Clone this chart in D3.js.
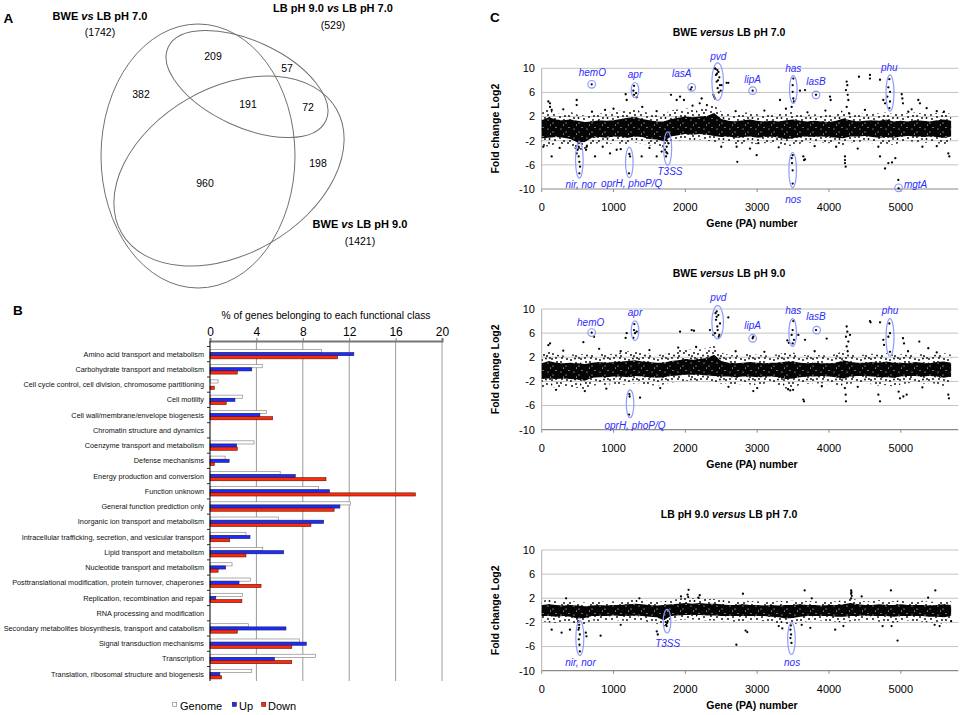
<!DOCTYPE html>
<html>
<head>
<meta charset="utf-8">
<script src="https://cdn.jsdelivr.net/npm/d3@7"></script>
<style>
  body { margin: 0; background: #fff; }
  text { font-family: "Liberation Sans", Arial, Helvetica, sans-serif; }
</style>
</head>
<body>
<svg id="fig" width="965" height="715"></svg>
<script>
// ---------- data: panel A (Venn) ----------
const vennNames = ["BWE vs LB pH 7.0", "LB pH 9.0 vs LB pH 7.0", "BWE vs LB pH 9.0"];
const vennTotals = [1742, 529, 1421];
const vennCounts = [382, 209, 57, 191, 72, 198, 960];

// ---------- data: panel B (functional classes) ----------
const categories = [
  "Amino acid transport and metabolism",
  "Carbohydrate transport and metabolism",
  "Cell cycle control, cell division, chromosome partitioning",
  "Cell motility",
  "Cell wall/membrane/envelope biogenesis",
  "Chromatin structure and dynamics",
  "Coenzyme transport and metabolism",
  "Defense mechanisms",
  "Energy production and conversion",
  "Function unknown",
  "General function prediction only",
  "Inorganic ion transport and metabolism",
  "Intracellular trafficking, secretion, and vesicular transport",
  "Lipid transport and metabolism",
  "Nucleotide transport and metabolism",
  "Posttranslational modification, protein turnover, chaperones",
  "Replication, recombination and repair",
  "RNA processing and modification",
  "Secondary metabolites biosynthesis, transport and catabolism",
  "Signal transduction mechanisms",
  "Transcription",
  "Translation, ribosomal structure and biogenesis"
];
const seriesNames = ["Genome", "Up", "Down"];
const genome = [9.6, 4.5, 0.7, 2.8, 4.85, 0, 3.8, 1.3, 6.05, 9.35, 12.1, 5.9, 3.1, 4.55, 1.9, 3.5, 2.8, 0, 3.3, 7.7, 9.1, 3.6];
const up     = [12.4, 3.6, 0, 2.15, 4.3, 0, 2.3, 1.65, 7.35, 10.3, 11.2, 9.8, 3.45, 6.35, 1.35, 2.5, 0.5, 0, 6.55, 8.3, 5.55, 0.85];
const down   = [11.0, 2.35, 0.37, 1.4, 5.4, 0, 2.35, 0.37, 10.0, 17.7, 10.7, 8.7, 1.7, 3.1, 0.7, 4.4, 2.75, 0, 2.35, 7.05, 7.05, 1.0];
const pctTicks = [0, 4, 8, 12, 16, 20];

// ---------- data: panel C (fold change per gene) ----------
const geneTicks = [0, 1000, 2000, 3000, 4000, 5000];
const foldTicks = [10, 6, 2, -2, -6, -10];
// dense cloud read as an envelope every 100 genes
const bandGenes = [0,100,200,300,400,500,600,700,800,900,1000,1100,1200,1300,1400,1500,1600,1700,1800,1900,
  2000,2100,2200,2300,2400,2500,2600,2700,2800,2900,3000,3100,3200,3300,3400,3500,3600,3700,3800,3900,
  4000,4100,4200,4300,4400,4500,4600,4700,4800,4900,5000,5100,5200,5300,5400,5500,5600,5700];

const p1CoreHi = [1.4,1.9,1.5,1.4,1.5,1.3,1.1,1.2,1.4,1.3, 1.4,1.6,1.8,1.9,1.6,1.4,1.2,1.2,1.6,1.8,
  2.0,1.9,2.0,2.1,2.6,1.6,1.3,1.2,1.4,1.5, 1.3,1.2,1.3,1.2,1.4,1.5,1.3,1.2,1.3,1.2,
  1.1,1.3,1.7,1.4,1.2,1.3,1.4,1.3,1.5,1.2, 1.3,1.2,1.4,1.3,1.2,1.4,1.5,1.3];
const p1CoreLo = [-1.6,-1.5,-1.4,-1.5,-1.7,-2.3,-2.2,-1.5,-1.4,-1.5, -1.3,-1.4,-1.5,-1.3,-1.4,-1.7,-1.8,-2.1,-1.3,-1.1,
  -0.9,-1.0,-0.9,-1.0,-1.2,-1.4,-1.3,-1.5,-1.4,-1.3, -1.5,-1.4,-1.3,-1.5,-1.7,-1.6,-1.4,-1.3,-1.4,-1.3,
  -1.4,-1.5,-1.6,-1.3,-1.3,-1.2,-1.4,-1.5,-1.4,-1.5, -1.3,-1.2,-1.3,-1.4,-1.3,-1.4,-1.5,-1.3];
const p1FringeHi = [2.6,3.4,2.5,2.4,2.8,2.3,2.2,2.4,2.5,2.6, 2.8,3.0,3.2,3.4,2.9,2.6,2.4,2.5,3.0,3.2,
  3.4,3.2,3.3,3.6,4.0,2.8,2.5,2.3,2.6,2.8, 2.4,2.3,2.5,2.4,2.7,2.8,2.5,2.3,2.4,2.3,
  2.2,2.5,3.2,2.6,2.4,2.5,2.6,2.5,2.7,2.4, 2.6,2.5,2.7,2.5,2.4,2.6,2.8,2.4];
const p1FringeLo = [-2.8,-3.0,-2.5,-2.6,-2.8,-3.6,-3.4,-2.6,-2.4,-2.6, -2.4,-2.5,-2.6,-2.3,-2.5,-2.8,-3.0,-3.2,-2.3,-2.0,
  -1.8,-1.9,-1.8,-2.0,-2.2,-2.4,-2.3,-2.6,-2.5,-2.4, -2.6,-2.4,-2.3,-2.6,-2.9,-2.8,-2.5,-2.3,-2.4,-2.3,
  -2.4,-2.6,-2.8,-2.3,-2.2,-2.1,-2.4,-2.6,-2.5,-2.7, -2.3,-2.1,-2.2,-2.4,-2.3,-2.4,-2.6,-2.3];

const p2CoreHi = [1.0,1.4,1.1,1.0,1.1,1.0,0.9,1.1,1.2,1.1, 1.2,1.3,1.4,1.5,1.3,1.2,1.1,1.1,1.4,1.5,
  1.7,1.6,1.7,1.9,2.4,1.4,1.1,1.0,1.1,1.2, 1.1,1.0,1.1,1.1,1.3,1.3,1.1,1.0,1.1,1.0,
  1.0,1.1,1.5,1.2,1.1,1.1,1.2,1.1,1.3,1.1, 1.1,1.0,1.2,1.1,1.0,1.2,1.3,1.1];
const p2CoreLo = [-1.6,-1.5,-1.6,-1.5,-1.6,-1.7,-1.9,-1.4,-1.3,-1.3, -1.2,-1.2,-1.3,-1.1,-1.2,-1.3,-1.4,-1.3,-1.1,-1.0,
  -0.9,-0.9,-0.9,-1.0,-1.1,-1.2,-1.2,-1.3,-1.2,-1.2, -1.3,-1.2,-1.2,-1.3,-1.6,-1.5,-1.3,-1.2,-1.2,-1.1,
  -1.2,-1.3,-1.5,-1.2,-1.1,-1.1,-1.2,-1.3,-1.3,-1.4, -1.2,-1.1,-1.1,-1.2,-1.1,-1.2,-1.4,-1.2];
const p2FringeHi = [2.4,3.0,2.5,2.3,2.5,2.4,2.6,2.5,2.6,2.5, 2.6,2.8,3.0,3.1,2.8,2.6,2.4,2.5,2.9,3.2,
  3.4,3.2,3.3,3.5,3.9,2.8,2.4,2.3,2.5,2.6, 2.4,2.3,2.4,2.5,2.9,2.8,2.5,2.3,2.4,2.3,
  2.4,2.5,3.2,2.6,2.4,2.4,2.6,2.5,2.7,2.4, 2.5,2.4,2.6,2.5,2.3,2.5,2.7,2.4];
const p2FringeLo = [-3.0,-2.9,-3.0,-2.9,-3.0,-3.1,-3.3,-2.7,-2.6,-2.6, -2.4,-2.5,-2.6,-2.3,-2.4,-2.6,-2.7,-2.5,-2.2,-2.0,
  -1.9,-2.0,-1.9,-2.0,-2.2,-2.4,-2.4,-2.6,-2.4,-2.5, -2.6,-2.4,-2.4,-2.7,-3.2,-3.0,-2.6,-2.4,-2.4,-2.3,
  -2.5,-2.6,-3.0,-2.4,-2.3,-2.2,-2.5,-2.7,-2.6,-2.9, -2.5,-2.3,-2.2,-2.4,-2.3,-2.4,-2.8,-2.4];

const p3CoreHi = [0.9,1.0,0.9,0.8,0.9,0.8,0.7,0.8,0.9,0.8, 0.9,0.9,1.0,1.1,1.0,0.9,0.8,0.9,1.0,1.1,
  1.2,1.1,1.2,1.1,1.1,1.0,0.9,0.9,1.0,0.9, 0.9,0.8,0.9,0.8,0.9,0.9,1.0,0.9,0.9,0.8,
  0.9,0.9,1.0,1.2,1.0,0.9,0.9,1.0,0.9,0.9, 1.0,0.9,0.9,0.9,0.8,0.9,1.0,0.9];
const p3CoreLo = [-0.95,-0.95,-1.05,-0.95,-1.05,-1.35,-1.25,-0.95,-0.95,-0.95, -0.85,-0.95,-0.95,-0.85,-0.95,-1.05,-1.15,-1.65,-0.95,-0.85,
  -0.75,-0.75,-0.75,-0.85,-0.85,-0.95,-0.95,-0.95,-0.95,-0.95, -0.95,-0.95,-1.05,-1.15,-1.35,-1.25,-1.05,-0.95,-0.95,-0.95,
  -0.95,-1.05,-1.05,-0.95,-0.95,-0.85,-0.95,-0.95,-0.95,-1.05, -0.95,-0.95,-0.95,-0.95,-1.05,-1.05,-1.15,-0.95];
const p3FringeHi = [1.6,1.8,1.5,1.4,1.6,1.4,1.3,1.4,1.5,1.4, 1.5,1.6,1.7,1.9,1.7,1.5,1.4,1.5,1.7,1.9,
  2.2,2.0,2.1,1.9,1.9,1.7,1.6,1.5,1.7,1.5, 1.5,1.4,1.5,1.5,1.6,1.6,1.7,1.5,1.5,1.4,
  1.5,1.5,1.7,2.0,1.7,1.5,1.5,1.7,1.6,1.5, 1.7,1.5,1.5,1.6,1.4,1.5,1.7,1.5];
const p3FringeLo = [-1.8,-2.0,-2.1,-1.8,-1.9,-2.5,-2.3,-1.7,-1.8,-1.7, -1.6,-1.7,-1.8,-1.6,-1.7,-2.0,-2.2,-2.7,-1.8,-1.6,
  -1.5,-1.5,-1.6,-1.7,-1.7,-1.8,-1.8,-1.9,-1.8,-1.8, -1.7,-1.8,-2.0,-2.3,-2.6,-2.4,-2.0,-1.8,-1.8,-1.7,
  -1.8,-1.9,-2.1,-1.8,-1.7,-1.6,-1.8,-1.9,-1.9,-2.1, -1.8,-1.7,-1.8,-1.9,-2.0,-2.0,-2.3,-1.8];

// individual genes outside the dense cloud: [gene, log2 fold change]
const pts1 = [
  [696,7.35],
  [1285,7.1],[1276,6.3],[1285,5.6],[1313,5.9],[1322,5.2],
  [2088,6.85],[2074,6.5],
  [2413,10],[2445,9.7],[2460,9.4],[2427,8.9],[2473,8.5],[2436,7.8],[2482,7.2],[2450,6.7],[2492,6.3],[2390,5.6],
  [2413,5.0],[2505,7.2],[2575,7.6],[2420,9.9],[2440,9.1],[2455,8.0],[2465,6.0],[2400,5.3],
  [2937,6.3],
  [3503,8.3],[3494,7.2],[3494,6.1],[3503,5.0],[3512,4.5],[3480,3.6],
  [3819,5.6],
  [4840,8.2],[4826,6.85],[4849,6.1],[4812,5.3],[4849,4.5],[4840,3.4],
  [4969,-9.9],[4965,-8.5],
  [3494,-4.4],[3485,-5.7],[3494,-6.9],[3494,-9.1],[3480,-4.9],
  [515,-2.4],[501,-3.5],[515,-4.6],[524,-5.5],[534,-6.3],[524,-7.4],[515,-3.0],[487,-4.1],
  [1220,-4.2],[1216,-7.4],[1230,-4.6],
  [1740,-0.8],[1731,-1.9],[1740,-3.0],[1749,-4.1],[1731,-4.6],[1763,-2.4],[1717,-3.5],[1745,-2.0],[1735,-3.9],
  [4417,8.6],[4570,8.9],[4570,8.3],[4710,8.1],
  [4246,7.8],[4255,7.2],[4236,6.4],[4260,5.6],[4269,4.75],[4246,3.6],[4283,2.5],
  [4222,-4.6],[4222,-5.2],[4222,-5.7],[4232,-6.3],
  [3596,6.3],[3666,6.4],[2598,7.6],
  [5012,5.7],[5021,5.0],[5030,4.2],[5243,4.75],[5266,4.2],[4756,4.75],[4780,4.2],[4014,5.3],[4023,4.75],
  [3318,4.75],[5104,2.8],[5359,3.4],
  [2714,-3.0],[2723,-5.5],[2993,-4.4],[3016,-2.4],[3642,-4.6],[3652,-5.2],[3666,-5.1],
  [4710,-4.6],[4780,-6.6],[4826,-5.7],[4687,-3.0],[4923,-4.9],[4877,-5.6],[5661,-4.1],[5675,-4.6],
  [116,4.2],[93,4.5],[116,3.6],[139,3.1],[487,4.75],[487,3.9],[1169,5.7],[1183,4.75],[1800,5.6],[1879,4.75],
  [1926,5.3],[1981,4.75],[2227,5.0],[882,3.1],
  [139,-4.6],[23,-3.0],[742,-4.6],[951,-4.1],[1044,-3.5],[1601,-4.6],[1670,-3.8],[1392,-4.6],[626,-3.0],[617,-3.5],
  [300,3.2],[700,2.8],[1000,3.3],[1400,3.6],[1600,2.9],[2100,3.8],[2200,4.2],[2300,3.9],[2700,2.9],[3100,3.0],
  [3400,3.3],[3700,2.7],[3950,3.0],[4500,3.1],[5150,3.2],[5500,2.9],[5600,2.8],
  [250,-3.2],[850,-3.0],[1100,-3.4],[1500,-3.2],[2500,-3.0],[2900,-3.3],[3300,-3.1],[3800,-2.9],[4100,-3.0],
  [4400,-3.3],[5300,-3.0],[5500,-2.9]
];
const pts2 = [
  [696,6.1],[728,5.4],
  [1290,7.5],[1285,6.5],[1299,6.0],[1276,5.2],[1322,6.25],
  [2436,9.6],[2459,9.0],[2427,8.2],[2482,7.6],[2445,7.1],[2413,6.0],[2473,5.7],[2436,8.7],[2390,5.7],[2598,8.6],
  [2420,9.3],[2450,6.5],[2465,5.4],
  [2937,5.15],[2946,5.4],
  [3503,8.0],[3494,6.5],[3480,5.7],[3512,4.9],[3494,4.3],
  [3819,6.5],
  [4840,7.6],[4849,6.0],[4826,5.4],[4849,2.9],
  [1220,-4.1],[1225,-4.5],[1216,-7.5],
  [4246,7.1],[4255,6.25],[4236,5.4],[4269,4.6],[4246,3.8],[4292,5.7],[4260,3.0],
  [4222,-3.1],[4232,-4.2],[4236,-5.3],
  [4570,8.0],[4579,7.8],[4710,7.8],
  [3967,5.1],[3573,5.7],[3666,4.9],[1183,6.0],[1169,5.2],[1926,6.25],[2088,6.5],[2120,6.4],
  [5030,5.15],[5044,4.3],[5257,4.6],[5382,3.5],[4756,4.9],[4766,4.05],[2343,6.5],
  [4687,-4.2],[4710,-5.3],[4969,-3.7],[4988,-4.8],[5035,-4.5],[5081,-4.2],[3642,-5.0],[3652,-5.3],
  [2946,-3.6],[1369,-4.7],[5661,-4.2],[5670,-4.8],
  [116,4.3],[93,4.0],[580,4.5],[3420,4.8],[3440,4.4],[3430,-3.3],[3460,-3.5],[3500,-3.4],
  [300,3.1],[800,3.4],[1100,3.0],[1500,3.2],[1900,3.6],[2150,3.7],[2700,3.0],[3100,2.9],[3800,3.0],
  [5100,3.0],[5500,2.8],
  [200,-3.4],[600,-3.6],[900,-3.2],[1650,-3.1],[2600,-2.9],[3000,-3.1],[3900,-2.8],[4400,-2.9],[5300,-3.0]
];
const pts3 = [
  [522,-2.4],[512,-3.2],[531,-4.0],[517,-4.8],[526,-5.7],[531,-6.8],[508,-1.8],[614,-3.7],[623,-4.3],[520,-2.9],
  [1731,-1.0],[1754,-1.8],[1731,-2.4],[1740,-2.6],[1745,-2.1],
  [3463,-3.2],[3472,-4.0],[3463,-4.6],[3477,-5.4],[3468,-2.5],
  [2045,3.4],[2031,2.6],[2040,2.2],
  [4308,3.3],[4308,2.75],[4308,2.0],[4317,2.4],[4312,3.0],
  [3661,3.3],[4862,3.3],[5480,3.3],[2802,2.75],
  [4954,-5.0],[2710,-5.7],[1616,-4.0],[1602,-3.5],[277,-3.7],[393,-3.2],[139,-3.2],
  [5471,-2.4],[5540,-2.6],[1939,2.3],[2839,-3.35],[2862,-3.6],[4086,-3.2],[4871,-2.6],[4746,-2.6],[4455,2.3],
  [2200,2.5],[2180,2.1],[1360,2.0],[340,2.0],[3760,2.0],[5380,2.1],[3300,-2.6],[3350,-3.0],[3620,-2.4],
  [3740,-2.9],[4200,-2.6],[1100,-2.4],[820,-4.2],[5700,-1.8]
];

// circled gene groups: [label, gene, fold, half-height (fold units, 0 = small circle), half-width px, label gene, label fold]
const notes1 = [
  ["hemO", 696, 7.35, 0, 3.8, 705, 9.3],
  ["apr", 1299, 6.4, 1.25, 3.8, 1299, 8.9],
  ["lasA", 2088, 6.85, 0, 3.8, 1949, 9.1],
  ["pvd", 2450, 7.8, 3.1, 5.8, 2459, 12.0],
  ["lipA", 2937, 6.3, 0, 3.8, 2937, 8.2],
  ["has", 3503, 6.5, 2.3, 3.8, 3503, 10.0],
  ["lasB", 3819, 5.6, 0, 3.8, 3819, 7.8],
  ["phu", 4849, 5.9, 3.0, 4.0, 4840, 10.1],
  ["mgtA", 4969, -9.8, 0, 3.8, 5206, -9.2],
  ["nir, nor", 524, -5.2, 3.0, 3.8, 543, -9.2],
  ["oprH, phoP/Q", 1220, -5.6, 2.5, 3.8, 1253, -9.1],
  ["T3SS", 1754, -3.3, 2.75, 4.0, 1786, -7.1],
  ["nos", 3494, -6.85, 2.9, 3.8, 3503, -11.7]
];
const notes2 = [
  ["hemO", 696, 6.1, 0, 3.8, 682, 7.8],
  ["apr", 1299, 6.4, 1.65, 3.8, 1299, 9.4],
  ["pvd", 2450, 7.8, 2.75, 5.8, 2459, 11.9],
  ["lipA", 2937, 5.15, 0, 3.8, 2937, 7.25],
  ["has", 3494, 6.1, 2.3, 3.8, 3503, 9.7],
  ["lasB", 3828, 6.5, 0, 3.8, 3819, 8.7],
  ["phu", 4849, 5.3, 3.1, 4.0, 4849, 9.7],
  ["oprH, phoP/Q", 1230, -5.7, 2.3, 3.8, 1299, -9.3]
];
const notes3 = [
  ["nir, nor", 531, -4.6, 2.9, 4.0, 540, -8.6],
  ["T3SS", 1745, -1.8, 1.95, 3.8, 1754, -5.5],
  ["nos", 3477, -4.7, 2.6, 3.8, 3486, -8.6]
];

const svg = d3.select("#fig");

// textures used to render the dense part of the scatter clouds
const defs = svg.append("defs");
const fringeTex = defs.append("pattern").attr("id", "fringeTex")
  .attr("patternUnits", "userSpaceOnUse").attr("width", 29).attr("height", 21);
[[1,2],[6,5],[11,1],[15,7],[20,3],[25,6],[28,1],[3,10],[9,12],[13,15],[18,11],[23,13],[27,17],[2,18],
 [7,19.5],[12,20],[17,17],[22,19],[26,10],[4,14],[8,8],[16,2],[21,8],[10,5],[24,1.5],[14,11],[19,15],
 [5,1],[27.5,13],[11,17],[0.5,6.5],[25,20]]
  .forEach(([cx, cy]) => fringeTex.append("circle").attr("cx", cx).attr("cy", cy).attr("r", 0.9).attr("fill", "#000"));
const coreTex = defs.append("pattern").attr("id", "coreTex")
  .attr("patternUnits", "userSpaceOnUse").attr("width", 13).attr("height", 9);
coreTex.append("rect").attr("width", 13).attr("height", 9).attr("fill", "#050505");
[[2,3],[7,6],[10,1.5],[4.5,8]]
  .forEach(([cx, cy]) => coreTex.append("circle").attr("cx", cx).attr("cy", cy).attr("r", 0.55).attr("fill", "#fff"));

// helper: text with one italic word ("vs" / "versus")
function mixedText(sel, parts) {
  parts.forEach((p, i) => {
    sel.append("tspan").attr("font-style", i === 1 ? "italic" : "normal").text(p);
  });
  return sel;
}

// panel letters
[["A", 3.5, 22.5], ["B", 13, 315], ["C", 490, 22]].forEach(([t, x, y]) => {
  svg.append("text").attr("x", x).attr("y", y).attr("font-size", 13.5)
    .attr("font-weight", "bold").text(t);
});

// ================= A: Venn =================
const vennShapes = [
  { cx: 198, cy: 156, rx: 97, ry: 132, rot: 0 },
  { cx: 247, cy: 84, rx: 87, ry: 43, rot: 25 },
  { cx: 229, cy: 171, rx: 124, ry: 83, rot: -30 }
];
const venn = svg.append("g");
venn.selectAll("ellipse").data(vennShapes).enter().append("ellipse")
  .attr("cx", d => d.cx).attr("cy", d => d.cy)
  .attr("rx", d => d.rx).attr("ry", d => d.ry)
  .attr("transform", d => `rotate(${d.rot},${d.cx},${d.cy})`)
  .attr("fill", "none").attr("stroke", "#707070").attr("stroke-width", 1);

const vennTitlePos = [[100, 19.5, 36], [333, 11.5, 29], [360, 228, 245]];
vennNames.forEach((name, i) => {
  const [a, b] = name.split(" vs ");
  const [x, y1, y2] = vennTitlePos[i];
  mixedText(venn.append("text").attr("x", x).attr("y", y1).attr("text-anchor", "middle")
    .attr("font-size", 11).attr("font-weight", "bold"), [a + " ", "vs", " " + b]);
  venn.append("text").attr("x", x).attr("y", y2).attr("text-anchor", "middle")
    .attr("font-size", 10.5).text(`(${vennTotals[i]})`);
});
const vennCountPos = [[141, 94], [213, 56], [287, 68], [248, 104], [308, 107], [318, 163], [205, 183]];
vennCounts.forEach((c, i) => {
  venn.append("text").attr("x", vennCountPos[i][0]).attr("y", vennCountPos[i][1])
    .attr("dy", "0.36em").attr("text-anchor", "middle").attr("font-size", 10.5).text(c);
});

// ================= B: bar chart =================
const bars = svg.append("g");
const xB = d3.scaleLinear().domain([0, 20]).range([210, 442]);
const yB = d3.scaleBand().domain(categories).range([346.5, 681.8]).paddingInner(0.38).paddingOuter(0.19);
const sub = d3.scaleBand().domain(seriesNames).range([0, yB.bandwidth()]);
const barTop = 341, barBottom = 681;

bars.append("text").attr("x", 326).attr("y", 318.5).attr("text-anchor", "middle")
  .attr("font-size", 10.3).text("% of genes belonging to each functional class");

bars.selectAll(".grid").data(pctTicks.slice(1)).enter().append("line")
  .attr("x1", d => xB(d)).attr("x2", d => xB(d))
  .attr("y1", barTop).attr("y2", barBottom)
  .attr("stroke", "#9a9a9a").attr("stroke-width", 1);

const xAxisB = d3.axisTop(xB).tickValues(pctTicks).tickSize(3).tickPadding(2);
bars.append("g").attr("transform", `translate(0,${barTop})`).call(xAxisB)
  .call(g => g.select(".domain").attr("stroke", "#777").attr("stroke-width", 2))
  .call(g => g.selectAll(".tick line").attr("stroke", "#777"))
  .call(g => g.selectAll(".tick text").attr("font-size", 12).attr("fill", "#000")
    .attr("font-family", '"Liberation Sans", Arial, sans-serif'));

const seriesData = [genome, up, down];
const seriesFill = ["#ffffff", "#1a2cff", "#ff2a0a"];
const seriesStroke = ["#777777", "#1a1a55", "#5a1008"];
seriesData.forEach((vals, s) => {
  bars.selectAll(".s" + s).data(categories).enter().append("rect")
    .attr("x", xB(0))
    .attr("y", d => yB(d) + sub(seriesNames[s]))
    .attr("width", (d, i) => xB(vals[i]) - xB(0))
    .attr("height", sub.bandwidth())
    .attr("fill", seriesFill[s])
    .attr("stroke", (d, i) => vals[i] > 0 ? seriesStroke[s] : "none")
    .attr("stroke-width", 0.6);
});

// category axis
bars.append("line").attr("x1", xB(0)).attr("x2", xB(0)).attr("y1", barTop).attr("y2", barBottom)
  .attr("stroke", "#000").attr("stroke-width", 1);
bars.selectAll(".ctick").data(categories).enter().append("line")
  .attr("x1", xB(0) - 3).attr("x2", xB(0))
  .attr("y1", d => yB(d) - yB.step() * yB.paddingInner() / 2)
  .attr("y2", d => yB(d) - yB.step() * yB.paddingInner() / 2)
  .attr("stroke", "#000").attr("stroke-width", 0.8);
bars.selectAll(".clabel").data(categories).enter().append("text")
  .attr("x", 204).attr("y", d => yB(d) + yB.bandwidth() / 2).attr("dy", "0.35em")
  .attr("text-anchor", "end").attr("font-size", 7.3).attr("fill", "#111").text(d => d);

// legend
const legendPos = [[172.7, 180], [232.3, 239], [261.7, 268]];
seriesNames.forEach((n, s) => {
  bars.append("rect").attr("x", legendPos[s][0]).attr("y", 702.3).attr("width", 4).attr("height", 4)
    .attr("fill", seriesFill[s]).attr("stroke", s === 0 ? "#777" : seriesStroke[s]).attr("stroke-width", 0.6);
  bars.append("text").attr("x", legendPos[s][1]).attr("y", 710).attr("font-size", 11).text(n);
});

// ================= C: scatter panels =================
const xC = d3.scaleLinear().domain([0, 5800]).range([541.7, 958.3]);

function scatterPanel(p) {
  const g = svg.append("g");
  const y = d3.scaleLinear().domain([-10, 10]).range([p.top + 120.7, p.top]);

  // grid
  g.selectAll(".gl").data(foldTicks).enter().append("line")
    .attr("x1", xC(0)).attr("x2", xC(5800))
    .attr("y1", d => y(d)).attr("y2", d => y(d))
    .attr("stroke", d => d === -10 ? "#8a8a8a" : "#c4c4c4")
    .attr("stroke-width", d => d === -10 ? 1.2 : 1);
  g.append("line").attr("x1", xC(0)).attr("x2", xC(0)).attr("y1", y(10)).attr("y2", y(-10))
    .attr("stroke", "#b0b0b0");
  g.selectAll(".xt").data(geneTicks).enter().append("line")
    .attr("x1", d => xC(d)).attr("x2", d => xC(d))
    .attr("y1", y(-10)).attr("y2", y(-10) + 3).attr("stroke", "#8a8a8a");

  // dense cloud
  const band = bandGenes.map((gn, i) => ({ g: gn, flo: p.fLo[i], fhi: p.fHi[i], clo: p.cLo[i], chi: p.cHi[i] }));
  g.append("path").datum(band)
    .attr("d", d3.area().x(d => xC(d.g)).y0(d => y(d.flo)).y1(d => y(d.fhi)))
    .attr("fill", "url(#fringeTex)");
  g.append("path").datum(band)
    .attr("d", d3.area().x(d => xC(d.g)).y0(d => y(d.clo)).y1(d => y(d.chi)))
    .attr("fill", "url(#coreTex)");

  // single genes
  g.selectAll(".pt").data(p.pts).enter().append("circle")
    .attr("cx", d => xC(d[0])).attr("cy", d => y(d[1])).attr("r", 1.15).attr("fill", "#000");

  // circled groups
  p.notes.forEach(([lab, gn, v, hh, hw, lg, lv]) => {
    g.append("ellipse").attr("cx", xC(gn)).attr("cy", y(v))
      .attr("rx", hw).attr("ry", hh === 0 ? 3.8 : y(0) - y(hh))
      .attr("fill", "none").attr("stroke", "#8d9bff").attr("stroke-width", 1.2);
    g.append("text").attr("x", xC(lg)).attr("y", y(lv)).attr("dy", "0.35em")
      .attr("text-anchor", "middle").attr("font-size", 10).attr("font-style", "italic")
      .attr("fill", "#2b2bff").text(lab);
  });

  // tick labels
  g.selectAll(".yl").data(foldTicks).enter().append("text")
    .attr("x", 535).attr("y", d => y(d)).attr("dy", "0.35em").attr("text-anchor", "end")
    .attr("font-size", 11).text(d => String(d));
  g.selectAll(".xl").data(geneTicks).enter().append("text")
    .attr("x", d => xC(d)).attr("y", y(-10) + 18).attr("dy", "0.35em").attr("text-anchor", "middle")
    .attr("font-size", 11).text(d => String(d));

  // titles
  mixedText(g.append("text").attr("x", 729).attr("y", p.top - 32).attr("text-anchor", "middle")
    .attr("font-size", 10.5).attr("font-weight", "bold"), p.title);
  g.append("text").attr("x", 752).attr("y", y(-10) + 38).attr("text-anchor", "middle")
    .attr("font-size", 10.5).attr("font-weight", "bold").text("Gene (PA) number");
  g.append("text").attr("transform", `translate(499,${y(0)}) rotate(-90)`)
    .attr("text-anchor", "middle").attr("font-size", 10.5).attr("font-weight", "bold")
    .text("Fold change Log2");
}

scatterPanel({ top: 68.3, title: ["BWE ", "versus", " LB pH 7.0"], pts: pts1, notes: notes1,
  cLo: p1CoreLo, cHi: p1CoreHi, fLo: p1FringeLo, fHi: p1FringeHi });
scatterPanel({ top: 309, title: ["BWE ", "versus", " LB pH 9.0"], pts: pts2, notes: notes2,
  cLo: p2CoreLo, cHi: p2CoreHi, fLo: p2FringeLo, fHi: p2FringeHi });
scatterPanel({ top: 550, title: ["LB pH 9.0 ", "versus", " LB pH 7.0"], pts: pts3, notes: notes3,
  cLo: p3CoreLo, cHi: p3CoreHi, fLo: p3FringeLo, fHi: p3FringeHi });
</script>
</body>
</html>
